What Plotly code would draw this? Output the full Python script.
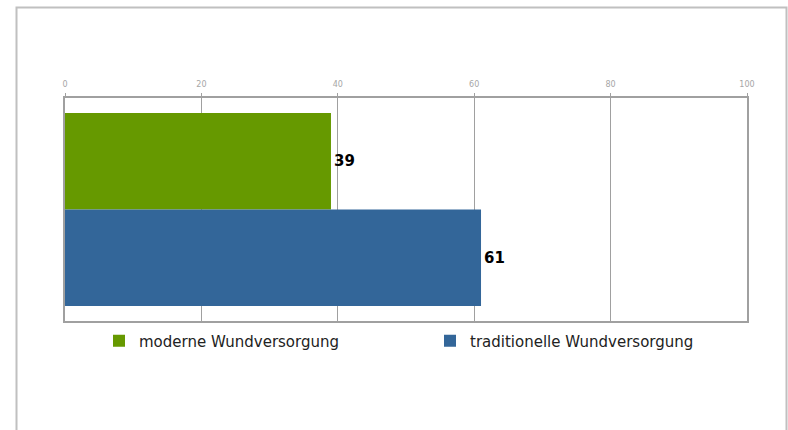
import plotly.graph_objects as go

category = [""]
series_names = ["moderne Wundversorgung", "traditionelle Wundversorgung"]
series_values = [[39], [61]]
series_colors = ["#669900", "#336699"]
tick_values = [0, 20, 40, 60, 80, 100]
tick_labels = ["0", "20", "40", "60", "80", "100"]

fig = go.Figure()
legend_ids = ["legend", "legend2"]
for name, vals, col, lg in zip(series_names, series_values, series_colors, legend_ids):
    fig.add_trace(go.Bar(
        name=name, x=vals, y=category, orientation="h",
        marker=dict(color=col, line=dict(width=0)),
        text=[str(v) for v in vals], textposition="outside",
        textfont=dict(family="DejaVu Sans", size=15, color="#000000", weight="bold"),
        cliponaxis=False, legend=lg,
    ))

L, R, T, B = 65, 41, 98, 109
W, H = 788, 430
pw, ph = W - L - R, H - T - B

def px_x(x):
    return (x - L) / pw

def px_y(y):
    return (H - B - y) / ph

legend_font = dict(family="DejaVu Sans", size=15, color="#222222")
fig.update_layout(
    width=W, height=H,
    margin=dict(l=L, r=R, t=T, b=B),
    paper_bgcolor="white", plot_bgcolor="white",
    barmode="group", bargap=0.135,
    showlegend=True,
    legend=dict(x=px_x(99), y=px_y(341), xanchor="left", yanchor="middle",
                font=legend_font, bgcolor="rgba(0,0,0,0)"),
    legend2=dict(x=px_x(430), y=px_y(341), xanchor="left", yanchor="middle",
                 font=legend_font, bgcolor="rgba(0,0,0,0)"),
    xaxis=dict(
        side="top", range=[0, 100], tickvals=tick_values, ticktext=tick_labels,
        showgrid=True, gridcolor="#a0a0a0", gridwidth=1,
        showline=True, linecolor="#a0a0a0", linewidth=1.5, mirror=True,
        ticks="outside", ticklen=3, tickcolor="#a0a0a0",
        ticklabelstandoff=3,
        tickfont=dict(family="DejaVu Sans", size=8, color="#a6a6a6"),
        zeroline=False, fixedrange=True,
    ),
    yaxis=dict(
        autorange="reversed", showticklabels=False, showgrid=False,
        showline=True, linecolor="#a0a0a0", linewidth=1.5, mirror=True,
        zeroline=False, ticks="",
    ),
    shapes=[dict(
        type="rect", xref="paper", yref="paper", layer="below",
        x0=px_x(16.5), x1=px_x(786.5), y0=px_y(440), y1=px_y(7.5),
        line=dict(color="#c0c0c0", width=2), fillcolor="rgba(0,0,0,0)",
    )],
)

fig.write_html("out.html", config={"displayModeBar": False},
               post_script="document.body.style.margin='0';")
